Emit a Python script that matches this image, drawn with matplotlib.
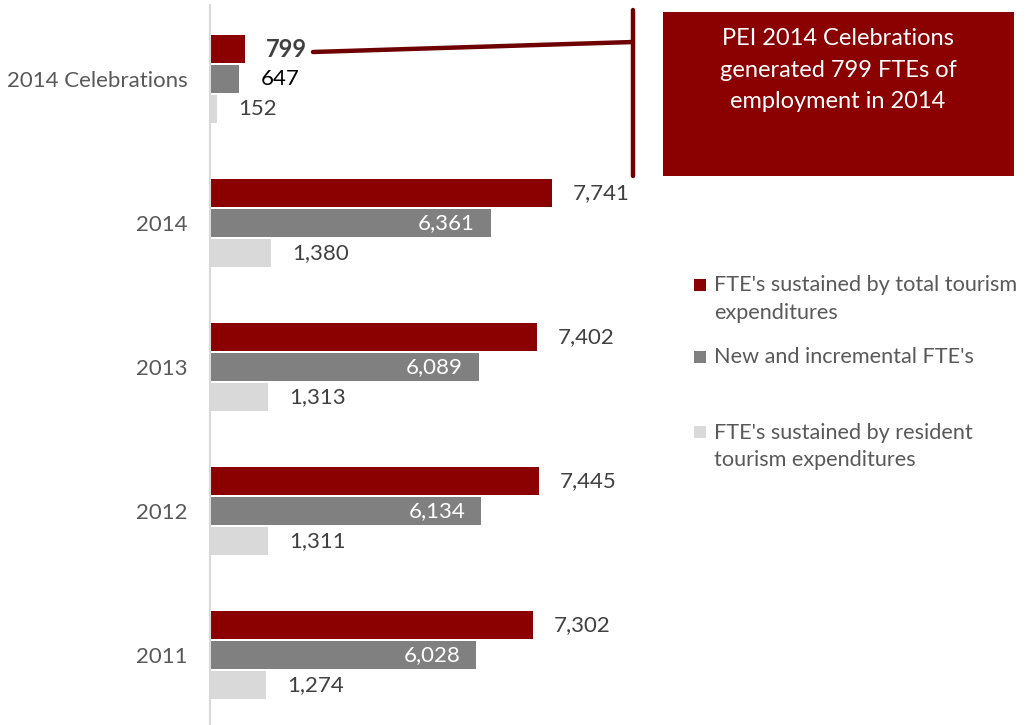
import matplotlib
matplotlib.use("Agg")
import matplotlib.pyplot as plt
from matplotlib.patches import Rectangle
from matplotlib.lines import Line2D

plt.rcParams['font.family'] = ['Lato', 'DejaVu Sans']

categories = ["2011", "2012", "2013", "2014", "2014 Celebrations"]
total_fte = [7302, 7445, 7402, 7741, 799]
new_fte = [6028, 6134, 6089, 6361, 647]
resident_fte = [1274, 1311, 1313, 1380, 152]
series_names = ["FTE's sustained by total tourism\nexpenditures",
                "New and incremental FTE's",
                "FTE's sustained by resident\ntourism expenditures"]
callout_text = "PEI 2014 Celebrations\ngenerated 799 FTEs of\nemployment in 2014"

RED = "#8B0000"
GRAY = "#808080"
LIGHT = "#D9D9D9"
TXT = "#404040"
TICK = "#595959"

W, H = 1026, 725
fig = plt.figure(figsize=(W / 100, H / 100), dpi=100)

ax_left, ax_right, ax_top = 210, 660, 5
ax = fig.add_axes([ax_left / W, 0, (ax_right - ax_left) / W, (H - ax_top) / H])
scale = 342 / 7741.0
ax.set_xlim(0, (ax_right - ax_left) / scale)
ax.set_ylim(-0.486, 4.514)

ypos = list(range(len(categories)))
bh = 0.2
off = 0.208
ax.barh([y + off for y in ypos], total_fte, height=bh, color=RED)
ax.barh(ypos, new_fte, height=bh, color=GRAY)
ax.barh([y - off for y in ypos], resident_fte, height=bh, color=LIGHT)

fs = 16
for i, y in enumerate(ypos):
    celeb = categories[i] == "2014 Celebrations"
    ax.annotate(f"{total_fte[i]:,}", (total_fte[i], y + off), xytext=(21, 0),
                textcoords='offset pixels', va='center', ha='left',
                fontsize=fs + 1 if celeb else fs,
                color=TXT, fontweight='bold' if celeb else 'normal')
    if celeb:
        ax.annotate(f"{new_fte[i]:,}", (new_fte[i], y), xytext=(22, 0),
                    textcoords='offset pixels', va='center', ha='left', fontsize=fs,
                    color='black')
    else:
        ax.annotate(f"{new_fte[i]:,}", (new_fte[i], y), xytext=(-16, 0),
                    textcoords='offset pixels', va='center', ha='right', fontsize=fs,
                    color='white')
    ax.annotate(f"{resident_fte[i]:,}", (resident_fte[i], y - off), xytext=(21, 0),
                textcoords='offset pixels', va='center', ha='left', fontsize=fs,
                color=TXT)

ax.set_yticks(ypos)
ax.set_yticklabels(categories, fontsize=fs, color=TICK)
ax.tick_params(axis='y', length=0, pad=16)
ax.set_xticks([])
for s in ['top', 'right', 'bottom']:
    ax.spines[s].set_visible(False)
ax.spines['left'].set_color(LIGHT)
ax.spines['left'].set_linewidth(1.5)

# overlay in pixel coordinates for callout and legend
ov = fig.add_axes([0, 0, 1, 1], zorder=5)
ov.set_xlim(0, W)
ov.set_ylim(H, 0)
ov.axis('off')

ov.add_line(Line2D([313, 633], [52, 42], color="#6E0000", lw=3.2, solid_capstyle='round'))
ov.add_line(Line2D([633, 633], [10, 176], color="#6E0000", lw=3.2, solid_capstyle='round'))
ov.add_patch(Rectangle((663, 12), 351, 164, facecolor=RED, edgecolor='none'))
ov.text(838, 70, callout_text, color='white', fontsize=17, ha='center', va='center',
        linespacing=1.6)

colors = [RED, GRAY, LIGHT]
sq_y = [285, 357, 432]
txt_y = [299, 357, 446.5]
for c, sy, ty, name in zip(colors, sq_y, txt_y, series_names):
    ov.add_patch(Rectangle((694, sy - 6), 12, 12, facecolor=c, edgecolor='none'))
    ov.text(714, ty, name, color=TICK, fontsize=15.6, ha='left', va='center',
            linespacing=1.45)

fig.savefig("out.png", dpi=100)
